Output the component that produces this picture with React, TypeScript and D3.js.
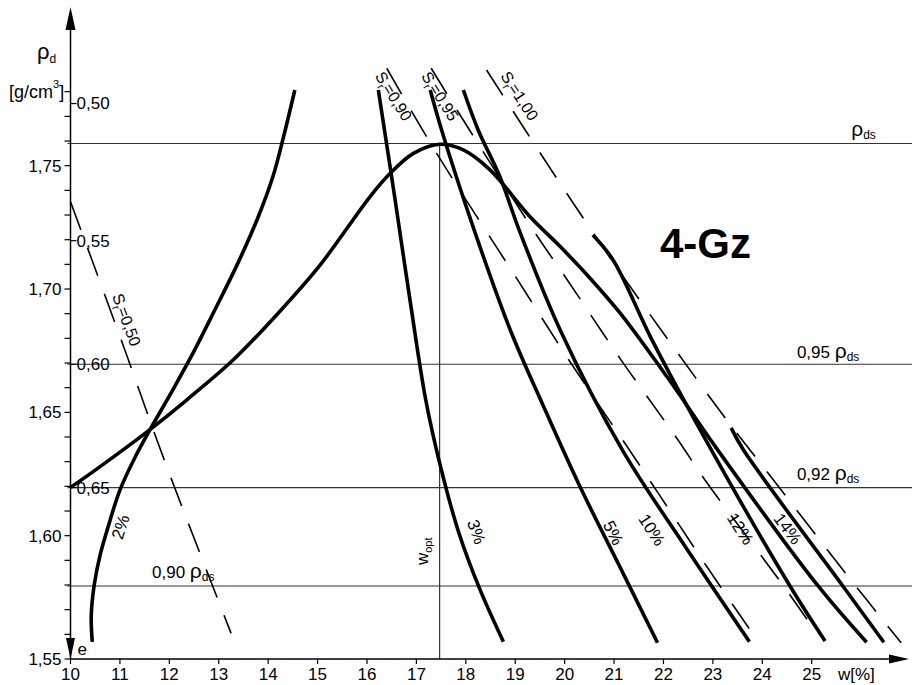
import React from "react";
import * as d3 from "d3";

type Pt = [number, number];

// Axis ticks
const wTicks = [10, 11, 12, 13, 14, 15, 16, 17, 18, 19, 20, 21, 22, 23, 24, 25];
const rhoTicks = [1.55, 1.6, 1.65, 1.7, 1.75];
const rhoTickLabels = ["1,55", "1,60", "1,65", "1,70", "1,75"];
const eTicks = [0.5, 0.55, 0.6, 0.65];
const eTickLabels = ["0,50", "0,55", "0,60", "0,65"];
// dry density at which each void-ratio tick sits
const eTickRho = [1.7752, 1.7196, 1.6695, 1.6195];

// Reference density levels (ρds and its fractions)
const refRho = [1.759, 1.6695, 1.6195, 1.5796];
const refFactor = ["", "0,95", "0,92", "0,90"];
const wOpt = 17.47;

// Compaction curve ρd(w)
const compaction: Pt[] = [
  [10.0, 1.6195], [10.6, 1.628], [11.2, 1.6368], [11.64, 1.6435], [12.35, 1.655],
  [13.29, 1.6712], [14.17, 1.6895], [15.05, 1.7097], [16.06, 1.7374], [16.47, 1.7469],
  [16.94, 1.755], [17.48, 1.7587], [17.95, 1.7564], [18.49, 1.7483], [19.3, 1.7293],
  [19.91, 1.7172], [20.51, 1.7045], [21.12, 1.6903], [22.09, 1.6639], [23.1, 1.6347],
  [25.13, 1.5796], [26.11, 1.5568],
];

// Additive curves
const curve2: Pt[] = [
  [10.44, 1.5569], [10.42, 1.5678], [10.48, 1.58], [10.6, 1.5922], [10.76, 1.6035],
  [11.0, 1.6185], [11.31, 1.6319], [11.63, 1.6437], [12.01, 1.657], [12.46, 1.6733],
  [12.92, 1.6915], [13.39, 1.7106], [13.79, 1.7288], [14.1, 1.7458], [14.32, 1.7624],
  [14.54, 1.7807],
];
const curve3: Pt[] = [
  [16.23, 1.7807], [16.57, 1.7361], [16.87, 1.6956], [17.19, 1.655], [17.47, 1.6295],
  [17.86, 1.6011], [18.29, 1.578], [18.76, 1.557],
];
const curve5: Pt[] = [
  [17.28, 1.7807], [17.51, 1.7645], [18.17, 1.7239], [18.9, 1.6834], [19.56, 1.653],
  [20.31, 1.6199], [21.1, 1.5881], [21.88, 1.5566],
];
const curve10: Pt[] = [
  [17.95, 1.7807], [18.25, 1.7645], [18.69, 1.7455], [19.08, 1.7239], [19.91, 1.6834],
  [21.17, 1.6347], [22.42, 1.5962], [23.74, 1.557],
];
const curve12: Pt[] = [
  [20.57, 1.7219], [20.98, 1.7118], [21.77, 1.6793], [22.96, 1.6351], [24.56, 1.5796],
  [25.27, 1.5573],
];
const curve14: Pt[] = [
  [23.37, 1.6437], [23.62, 1.6347], [25.63, 1.5796], [26.46, 1.5568],
];

// Saturation lines Sr
const sr050: Pt[] = [[10.0, 1.7354], [11.04, 1.6786], [11.91, 1.63], [13.25, 1.5604]];
const sr090: Pt[] = [
  [16.4, 1.7895], [17.41, 1.755], [19.03, 1.7043], [20.11, 1.6705], [21.56, 1.6273],
  [22.88, 1.5874], [23.79, 1.5607],
];
const sr095: Pt[] = [
  [17.3, 1.7895], [17.82, 1.7726], [19.43, 1.7219], [20.01, 1.705], [21.12, 1.6719],
  [22.27, 1.6395], [22.84, 1.6226], [24.39, 1.5807], [25.13, 1.5597],
];
const sr100: Pt[] = [
  [18.42, 1.7888], [19.84, 1.7449], [21.16, 1.7057], [22.1, 1.6793], [23.28, 1.6469],
  [24.12, 1.6253], [25.74, 1.5834], [26.81, 1.5566],
];

const solidCurves = [compaction, curve2, curve3, curve5, curve10, curve12, curve14];
const satCurves = [sr050, sr090, sr095, sr100];

// Label layout
const curveLabels = [
  { text: "2%", at: [11.02, 1.6035] as Pt, angle: -72 },
  { text: "3%", at: [18.21, 1.6015] as Pt, angle: 70 },
  { text: "5%", at: [20.98, 1.6011] as Pt, angle: 63 },
  { text: "10%", at: [21.76, 1.6023] as Pt, angle: 57 },
  { text: "12%", at: [23.55, 1.6027] as Pt, angle: 57 },
  { text: "14%", at: [24.51, 1.6027] as Pt, angle: 53 },
];
const satLabels = [
  { value: "0,50", at: [10.84, 1.6972] as Pt, angle: 70 },
  { value: "0,90", at: [16.15, 1.7864] as Pt, angle: 58 },
  { value: "0,95", at: [17.09, 1.7864] as Pt, angle: 58 },
  { value: "1,00", at: [18.69, 1.7864] as Pt, angle: 57 },
];
const refLabelW = [25.8, 24.7, 24.7, 11.65];
const refLabelGap = [7.5, 6, 8, 8];

const x = d3.scaleLinear().domain([10, 25]).range([70.5, 811.7]);
const y = d3.scaleLinear().domain([1.55, 1.75]).range([659, 165.7]);

const line = d3
  .line<Pt>()
  .x((d) => x(d[0]))
  .y((d) => y(d[1]))
  .curve(d3.curveCatmullRom.alpha(0.5));

const FONT = "'Liberation Sans', Arial, Helvetica, sans-serif";

export default function App() {
  const x0 = x(10);
  const yBase = y(1.55);
  const minorRho = d3.range(155, 179).map((v) => v / 100);
  const axisTop = 7;
  const xEnd = 909;

  return (
    <svg
      width={912}
      height={685}
      style={{ position: "absolute", left: 0, top: 0, background: "#fff" }}
      fontFamily={FONT}
    >
      <rect width={912} height={685} fill="#fff" />

      {/* reference density levels */}
      {refRho.map((r, i) => (
        <line key={"ref" + i} x1={x0 - 3} x2={912} y1={y(r)} y2={y(r)} stroke="#333" strokeWidth={1.2} />
      ))}
      {/* optimum moisture content */}
      <line x1={x(wOpt)} x2={x(wOpt)} y1={y(refRho[0])} y2={yBase} stroke="#333" strokeWidth={1.2} />

      {/* saturation lines */}
      {satCurves.map((c, i) => (
        <path key={"sr" + i} d={line(c) || ""} fill="none" stroke="#000" strokeWidth={1.6} strokeDasharray="30 19" />
      ))}

      {/* compaction and additive curves */}
      {solidCurves.map((c, i) => (
        <path key={"c" + i} d={line(c) || ""} fill="none" stroke="#000" strokeWidth={3.6} />
      ))}

      {/* y axis */}
      <line x1={x0} x2={x0} y1={axisTop + 10} y2={yBase} stroke="#000" strokeWidth={1.5} />
      <path d={`M${x0},${axisTop} L${x0 - 5},${axisTop + 23} L${x0 + 5},${axisTop + 23} Z`} fill="#000" />
      <path d={`M${x0},${yBase} L${x0 - 4.5},${yBase - 21} L${x0 + 4.5},${yBase - 21} Z`} fill="#000" />
      {minorRho.map((r) => (
        <line key={"mr" + r} x1={x0 - 6} x2={x0} y1={y(r)} y2={y(r)} stroke="#000" strokeWidth={1.2} />
      ))}
      {rhoTicks.map((r, i) => (
        <text key={"rl" + i} x={x0 - 9} y={y(r)} dy="0.35em" textAnchor="end" fontSize={17}>
          {rhoTickLabels[i]}
        </text>
      ))}
      {eTicks.map((e, i) => (
        <g key={"e" + e}>
          <line x1={x0} x2={x0 + 6} y1={y(eTickRho[i])} y2={y(eTickRho[i])} stroke="#000" strokeWidth={1.2} />
          <text x={x0 + 6} y={y(eTickRho[i])} dy="0.35em" fontSize={17}>
            {eTickLabels[i]}
          </text>
        </g>
      ))}
      <text x={x0 + 7} y={yBase - 4} fontSize={17}>e</text>

      {/* x axis */}
      <line x1={x0} x2={xEnd - 10} y1={yBase} y2={yBase} stroke="#000" strokeWidth={1.5} />
      <path d={`M${xEnd},${yBase} L${xEnd - 20},${yBase - 4.5} L${xEnd - 20},${yBase + 4.5} Z`} fill="#000" />
      {wTicks.map((w) => (
        <g key={"w" + w}>
          <line x1={x(w)} x2={x(w)} y1={yBase} y2={yBase + 5} stroke="#000" strokeWidth={1.2} />
          <text x={x(w)} y={680} textAnchor="middle" fontSize={17}>
            {w}
          </text>
        </g>
      ))}
      <text x={838} y={680} fontSize={17}>w[%]</text>

      {/* axis title */}
      <text x={37} y={59} fontSize={22}>
        ρ<tspan fontSize={12} dy={4}>d</tspan>
      </text>
      <text x={9} y={98} fontSize={18}>
        [g/cm<tspan fontSize={11} dy={-10}>3</tspan>
        <tspan dy={10}>]</tspan>
      </text>

      {/* reference level labels */}
      {refRho.map((r, i) => (
        <text key={"rt" + i} x={x(refLabelW[i])} y={y(r) - refLabelGap[i]} fontSize={17}>
          {refFactor[i] ? refFactor[i] + " " : ""}
          <tspan fontSize={21}>ρ</tspan>
          <tspan fontSize={12} dy={3}>ds</tspan>
        </text>
      ))}

      {/* optimum label */}
      <text transform={`translate(${x(wOpt) - 11.5},${y(1.5881)}) rotate(-90)`} fontSize={17}>
        w<tspan fontSize={11} dy={4}>opt</tspan>
      </text>

      {/* curve labels */}
      {curveLabels.map((l) => (
        <text
          key={l.text}
          transform={`translate(${x(l.at[0])},${y(l.at[1])}) rotate(${l.angle})`}
          textAnchor="middle"
          dominantBaseline="central"
          fontSize={17}
        >
          {l.text}
        </text>
      ))}

      {/* saturation labels */}
      {satLabels.map((l) => (
        <text
          key={l.value}
          transform={`translate(${x(l.at[0])},${y(l.at[1])}) rotate(${l.angle})`}
          fontSize={16}
        >
          S<tspan fontSize={11} dy={4}>r</tspan>
          <tspan dy={-4}>={l.value}</tspan>
        </text>
      ))}

      <text x={660} y={258} fontSize={42} fontWeight="bold">4-Gz</text>
    </svg>
  );
}
